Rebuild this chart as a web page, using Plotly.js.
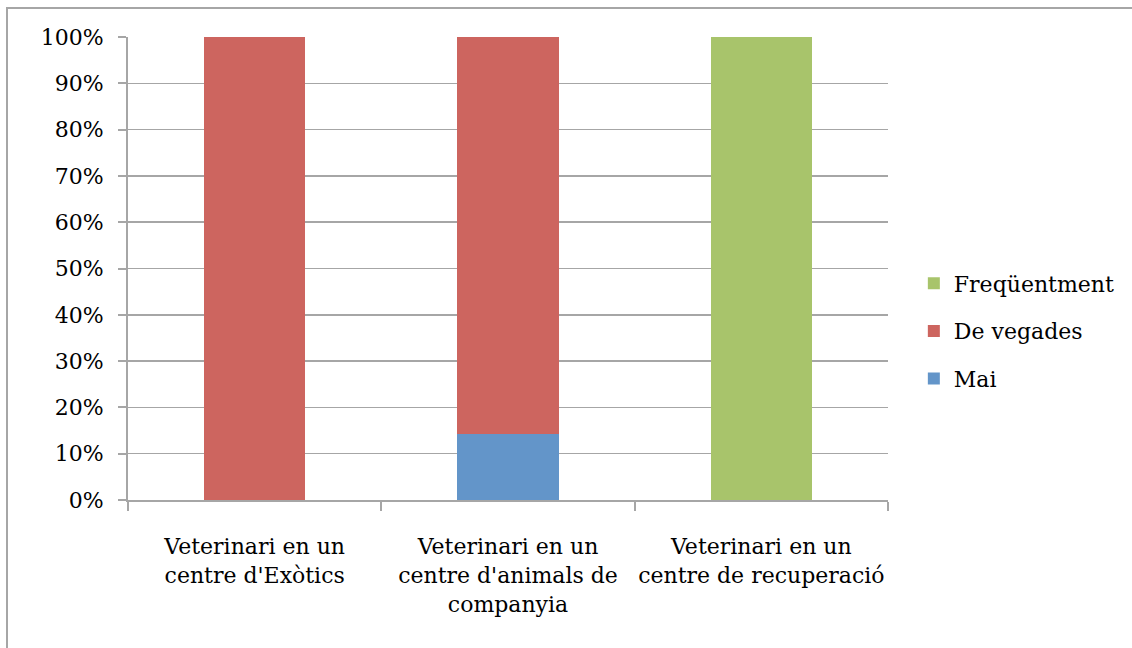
<!DOCTYPE html>
<html>
<head>
<meta charset="utf-8">
<script src="https://cdn.plot.ly/plotly-3.0.1.min.js"></script>
<style>
html,body{margin:0;padding:0;overflow:hidden;background:#fff;}
#frame{position:absolute;left:6px;top:7px;width:3000px;height:3000px;border-left:2px solid #a6a6a6;border-top:2px solid #a6a6a6;pointer-events:none;z-index:5;}
#chart{position:absolute;left:0;top:0;width:1132px;height:648px;}
</style>
</head>
<body>
<div id="chart"></div>
<div id="frame"></div>
<script>
var categories = [
  "Veterinari en un<br>centre d'Exòtics",
  "Veterinari en un<br>centre d'animals de<br>companyia",
  "Veterinari en un<br>centre de recuperació"
];
var mai = [0, 0.1429, 0];
var deVegades = [1, 0.8571, 0];
var frequentment = [0, 0, 1];
var yTicks = [0, 0.1, 0.2, 0.3, 0.4, 0.5, 0.6, 0.7, 0.8, 0.9, 1.0];
var yTickText = ["0%", "10%", "20%", "30%", "40%", "50%", "60%", "70%", "80%", "90%", "100%"];

var fontFam = "DejaVu Serif, Liberation Serif, serif";

var traces = [
  {type: 'bar', name: 'Mai', x: categories, y: mai, marker: {color: '#6395C9'}, legendgroup: 'a', legendrank: 3, hoverinfo: 'none'},
  {type: 'bar', name: 'De vegades', x: categories, y: deVegades, marker: {color: '#CD655F'}, legendgroup: 'b', legendrank: 2, hoverinfo: 'none'},
  {type: 'bar', name: 'Freqüentment', x: categories, y: frequentment, marker: {color: '#A8C46B'}, legendgroup: 'c', legendrank: 1, hoverinfo: 'none'}
];

var layout = {
  width: 1132, height: 648,
  margin: {l: 128, r: 244, t: 37, b: 148, pad: 0},
  paper_bgcolor: '#ffffff', plot_bgcolor: '#ffffff',
  barmode: 'stack', bargap: 0.6,
  font: {family: fontFam, size: 22, color: '#000000'},
  showlegend: true,
  legend: {x: 1.034, xanchor: 'left', y: 0.365, yanchor: 'middle', xref: 'paper', yref: 'paper',
    traceorder: 'grouped', tracegroupgap: 16, itemwidth: 30,
    font: {family: fontFam, size: 22, color: '#000000'}, bgcolor: 'rgba(0,0,0,0)'},
  xaxis: {type: 'category', showgrid: false, zeroline: false,
    showline: true, linecolor: '#a6a6a6', linewidth: 2,
    ticks: 'outside', tickson: 'boundaries', ticklen: 9, tickcolor: '#a6a6a6', tickwidth: 2,
    tickfont: {family: fontFam, size: 22, color: '#000'}, ticklabelstandoff: 26, tickangle: 0},
  yaxis: {range: [0, 1], tickvals: yTicks, ticktext: yTickText,
    showgrid: true, gridcolor: '#a6a6a6', gridwidth: 1.5, zeroline: false,
    showline: true, linecolor: '#a6a6a6', linewidth: 2,
    ticks: 'outside', ticklen: 8, tickcolor: '#a6a6a6', tickwidth: 2,
    tickfont: {family: fontFam, size: 22, color: '#000'}, ticklabelstandoff: 10}
};

Plotly.newPlot('chart', traces, layout, {displayModeBar: false, staticPlot: true});
</script>
</body>
</html>
